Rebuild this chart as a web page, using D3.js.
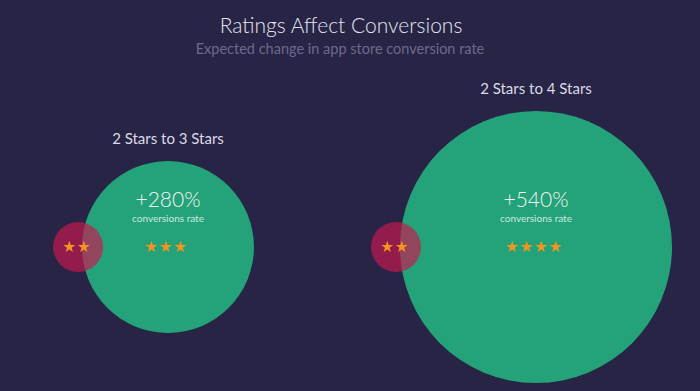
<html>
<head>
<meta charset="utf-8" />
<script src="https://cdnjs.cloudflare.com/ajax/libs/d3/7.8.5/d3.min.js"></script>
<style>
	body { margin: 0; background: #272446; }
	svg text { font-family: Lato, "Open Sans", sans-serif; }
</style>
</head>
<body>
<div id="chart"></div>
<script type="text/javascript">

	// data
	var groupLabels = ["2 Stars to 3 Stars", "2  Stars to 4 Stars"];
	var increases = [280, 540];
	var fromStars = [2, 2];
	var toStars = [3, 4];

	var width = 700;
	var height = 391;
	var cy = 247;

	var svg = d3.select("#chart")
		.append("svg")
		.attr("width", width)
		.attr("height", height);

	svg.append("rect")
		.attr("width", width)
		.attr("height", height)
		.attr("fill", "#272446");

	svg.append("text")
		.text("Ratings Affect Conversions")
		.attr("x", 341)
		.attr("y", 33)
		.attr("text-anchor", "middle")
		.attr("fill", "#e6e4ee")
		.attr("font-weight", 300)
		.attr("font-size", "21px");

	svg.append("text")
		.text("Expected change in app store conversion rate")
		.attr("x", 340)
		.attr("y", 54)
		.attr("text-anchor", "middle")
		.attr("fill", "#6d6a8c")
		.attr("font-weight", 400)
		.attr("font-size", "14.5px");

	var xPos = d3.scalePoint().domain(groupLabels).range([168, 536]);
	var rScale = d3.scaleLinear().domain([0, 540]).range([32, 136]);
	var baseR = 25;

	var star = d3.symbol().type(d3.symbolStar).size(44);

	var data = groupLabels.map(function(l, i){
		return { label: l, inc: increases[i], from: fromStars[i], to: toStars[i] };
	});

	var g = svg.selectAll(".grp")
		.data(data)
		.enter()
		.append("g")
		.attr("class", "grp")
		.attr("transform", function(d){ return "translate(" + xPos(d.label) + "," + cy + ")"; });

	g.append("circle")
		.attr("r", function(d){ return rScale(d.inc); })
		.attr("fill", "#24a279");

	g.append("text")
		.text(function(d){ return d.label; })
		.attr("y", function(d){ return -rScale(d.inc) - 17; })
		.attr("text-anchor", "middle")
		.attr("fill", "#dcdae6")
		.attr("font-weight", 400)
		.attr("font-size", "15px");

	g.append("text")
		.text(function(d){ return "+" + d.inc + "%"; })
		.attr("y", -40)
		.attr("text-anchor", "middle")
		.attr("fill", "#f2f6f4")
		.attr("font-weight", 300)
		.attr("font-size", "21px");

	g.append("text")
		.text("conversions rate")
		.attr("y", -25)
		.attr("text-anchor", "middle")
		.attr("fill", "#cdebdf")
		.attr("font-weight", 400)
		.attr("font-size", "10px");

	// target stars
	g.each(function(d){
		var n = d.to;
		d3.select(this).selectAll(".tstar")
			.data(d3.range(n))
			.enter()
			.append("path")
			.attr("d", star)
			.attr("fill", "#f7941d")
			.attr("transform", function(k){ return "translate(" + (-2 + (k - (n - 1) / 2) * 14.5) + ",0)"; });
	});

	// base (2 star) circle
	var b = g.append("g")
		.attr("transform", function(d){ return "translate(" + (-rScale(d.inc) - 4) + ",0)"; });

	b.append("circle")
		.attr("r", baseR)
		.attr("fill", "#c9194f")
		.attr("fill-opacity", 0.68);

	b.each(function(d){
		var n = d.from;
		d3.select(this).selectAll(".fstar")
			.data(d3.range(n))
			.enter()
			.append("path")
			.attr("d", star)
			.attr("fill", "#f7941d")
			.attr("transform", function(k){ return "translate(" + (-1.5 + (k - (n - 1) / 2) * 14.5) + ",0)"; });
	});

</script>
</body>
</html>
